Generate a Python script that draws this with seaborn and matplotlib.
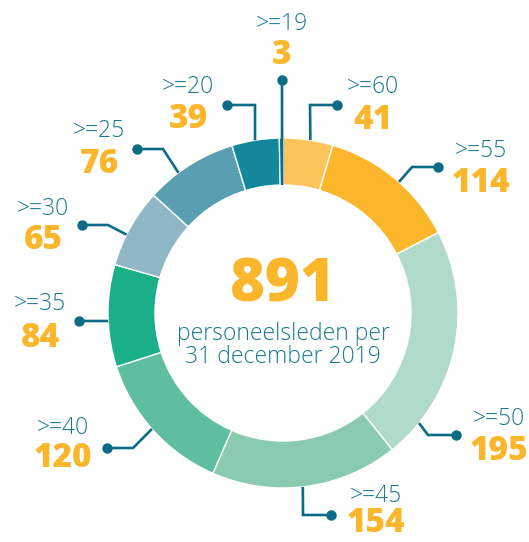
import matplotlib
matplotlib.use('Agg')

import numpy as np
import seaborn as sns
import matplotlib.pyplot as plt

# data, clockwise from the top
groups = ['>=60', '>=55', '>=50', '>=45', '>=40', '>=35', '>=30', '>=25', '>=20', '>=19']
counts = [41, 114, 195, 154, 120, 84, 65, 76, 39, 3]
colors = ['#fec45c', '#fbb62b', '#b0dac9', '#8acab1', '#5ebe9f', '#1aae89',
          '#8fb7c6', '#5a9fb1', '#13889d', '#0d6c85']
total_lines = ['personeelsleden per', '31 december 2019']

sns.set_theme(style='white')
plt.rcParams['font.family'] = ['Open Sans', 'DejaVu Sans']

TEAL = '#1b7a92'
LINE = '#0d6c85'
ORANGE = '#fbb62b'

cx, cy, R, W = 283, 313, 175, 47

# leader layout (pixels): angle where it leaves the ring, elbow, dot
anchor_deg = [9, 41.5, 129, 173.5, 228.5, 267.4, 296.6, 323.3, 350.8, 359.6]
elbows = [(310, 105), (412, 167), (428, 435), (303, 515), (133, 448),
          (108, 321), (108, 225), (163, 149), (255, 105), (282, 80)]
dots = [(337, 105), (438, 167), (456, 435), (331, 515), (107, 448),
        (79, 321), (82, 225), (137, 149), (227, 105), (282, 80)]
# label centre x, baseline of group text, baseline of number
labpos = [(373, 93, 129), (481, 157, 192), (499, 425, 460), (376, 502, 532),
          (63, 434, 467), (40, 310, 347), (43, 215, 249), (99, 137, 173),
          (188, 93, 128), (282, 30, 64)]

fig = plt.figure(figsize=(5.29, 5.42), dpi=100)
ax = fig.add_axes([0, 0, 1, 1])

ax.pie(counts, colors=colors, center=(cx, cy), radius=R, startangle=-90,
       counterclock=True, wedgeprops=dict(width=W, edgecolor='white', linewidth=1))
ax.set_xlim(0, 529)
ax.set_ylim(542, 0)
ax.axis('off')

for i, g in enumerate(groups):
    r = R - W if i == 9 else R
    phi = np.deg2rad(anchor_deg[i])
    sx, sy = cx + r * np.sin(phi), cy - r * np.cos(phi)
    ex, ey = elbows[i]
    dx, dy = dots[i]
    ax.plot([sx, ex, dx], [sy, ey, dy], color=LINE, lw=1.9,
            solid_capstyle='butt', solid_joinstyle='miter', zorder=3)
    ax.plot(dx, dy, 'o', color=LINE, ms=7.5, mew=0, zorder=4)
    lx, ly, ny = labpos[i]
    ax.text(lx, ly, g, color=TEAL, fontsize=16.5, fontweight='light',
            ha='center', va='baseline')
    ax.text(lx, ny, str(counts[i]), color=ORANGE, fontsize=24,
            fontweight='heavy', ha='center', va='baseline')

ax.text(cx, 302, str(sum(counts)), color=ORANGE, fontsize=43, fontweight='heavy',
        ha='center', va='baseline')
ax.text(cx, 340, total_lines[0], color=TEAL, fontsize=16.5, fontweight='light',
        ha='center', va='baseline')
ax.text(cx, 363, total_lines[1], color=TEAL, fontsize=16.5, fontweight='light',
        ha='center', va='baseline')

fig.savefig('out.png', dpi=100)
